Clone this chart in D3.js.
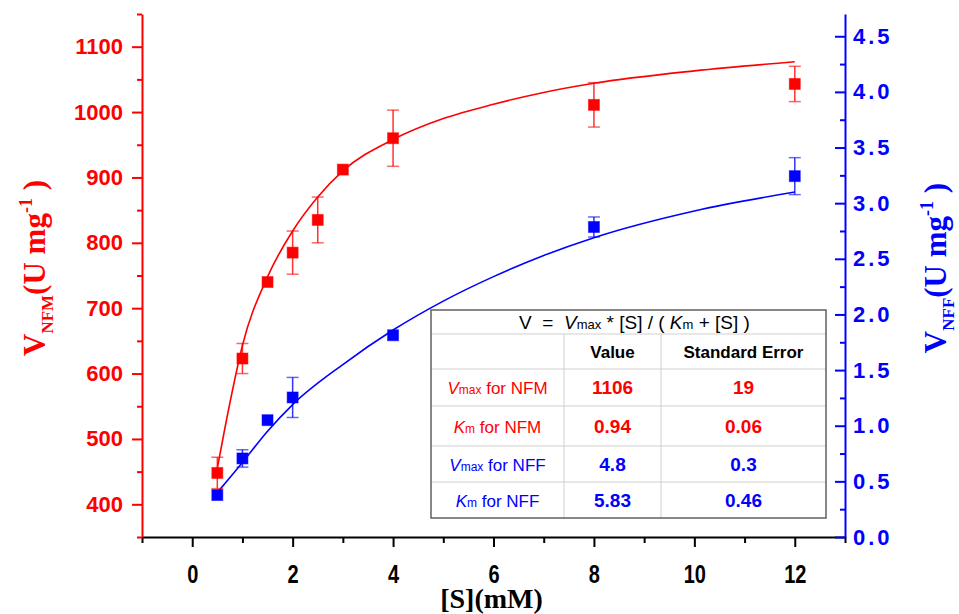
<!DOCTYPE html>
<html>
<head>
<meta charset="utf-8">
<script src="https://cdn.jsdelivr.net/npm/d3@7"></script>
<style>
  body { margin: 0; background: #fff; }
  svg { display: block; }
  .tick text { font-family: "Liberation Sans", Arial, sans-serif; font-weight: bold; }
</style>
</head>
<body>
<div id="chart"></div>
<script>
// substrate concentration [S] (mM) for the measured points
const nfmX = [0.5, 1, 1.5, 2, 2.5, 3, 4, 8, 12];
const nfmY = [448, 623, 740, 785, 835, 912, 960, 1011, 1043];
const nfmErr = [24, 23, 0, 33, 35, 0, 43, 34, 27];

const nffX = [0.5, 1, 1.5, 2, 4, 8, 12];
const nffY = [0.377, 0.706, 1.05, 1.254, 1.813, 2.786, 3.243];
const nffErr = [0, 0.078, 0, 0.18, 0, 0.09, 0.166];

// fitted curves
const nfmFitX = [0.5, 0.75, 1, 1.5, 2, 2.5, 3, 4, 5, 6, 7, 8, 10, 12];
const nfmFitY = [455, 555, 643, 748, 818, 870, 910, 958, 990, 1012, 1030, 1044, 1063, 1077];
const nffFitX = [0.5, 1, 1.5, 2, 3, 4, 5, 6, 7, 8, 10, 12];
const nffFitY = [0.40, 0.67, 0.95, 1.19, 1.55, 1.86, 2.12, 2.34, 2.53, 2.69, 2.93, 3.10];

// ticks
const xMajor = [0, 2, 4, 6, 8, 10, 12];
const xMinor = [-1, 1, 3, 5, 7, 9, 11, 13];
const yLMajor = [400, 500, 600, 700, 800, 900, 1000, 1100];
const yLMinor = [350, 450, 550, 650, 750, 850, 950, 1050, 1150];
const yRMajor = [0, 0.5, 1, 1.5, 2, 2.5, 3, 3.5, 4, 4.5];
const yRMinor = [0.25, 0.75, 1.25, 1.75, 2.25, 2.75, 3.25, 3.75, 4.25];

// fit table
const tableSymbols = ['V', 'K', 'V', 'K'];
const tableSubs = ['max', 'm', 'max', 'm'];
const tableSeries = ['NFM', 'NFM', 'NFF', 'NFF'];
const tableValues = ['1106', '0.94', '4.8', '5.83'];
const tableErrors = ['19', '0.06', '0.3', '0.46'];

const RED = '#ff0000', BLUE = '#0000ff';
const W = 959, H = 614;
const m = { left: 142, right: 845, top: 14, bottom: 537 };

const svg = d3.select('#chart').append('svg')
  .attr('width', W)
  .attr('height', H);

const x = d3.scaleLinear().domain([-1, 13]).range([m.left, m.right]);
const yL = d3.scaleLinear().domain([350, 1150]).range([m.bottom, m.top]);
const yR = d3.scaleLinear().domain([0, 4.7]).range([m.bottom, m.top]);

// x axis
const gx = svg.append('g').attr('transform', `translate(0,${m.bottom})`);
gx.call(d3.axisBottom(x).tickValues(xMinor).tickSize(6).tickSizeOuter(0).tickFormat(''));
gx.select('.domain').remove();
const gx2 = svg.append('g').attr('transform', `translate(0,${m.bottom})`);
gx2.call(d3.axisBottom(x).tickValues(xMajor).tickSize(10).tickPadding(18).tickSizeOuter(0).tickFormat(d3.format('d')));
gx2.select('.domain').attr('stroke', '#000').attr('stroke-width', 2);
gx.selectAll('line').attr('stroke', '#000').attr('stroke-width', 2);
gx2.selectAll('line').attr('stroke', '#000').attr('stroke-width', 2);
gx2.selectAll('text')
  .attr('font-size', 25)
  .attr('fill', '#000')
  .attr('transform', 'scale(0.8,1)');

// left axis
const gl = svg.append('g').attr('transform', `translate(${m.left},0)`);
gl.call(d3.axisLeft(yL).tickValues(yLMinor).tickSize(5).tickFormat(''));
gl.select('.domain').remove();
const gl2 = svg.append('g').attr('transform', `translate(${m.left},0)`);
gl2.call(d3.axisLeft(yL).tickValues(yLMajor).tickSize(10).tickPadding(9).tickSizeOuter(0).tickFormat(d3.format('d')));
gl2.select('.domain').attr('stroke', RED).attr('stroke-width', 2);
gl.selectAll('line').attr('stroke', RED).attr('stroke-width', 2);
gl2.selectAll('line').attr('stroke', RED).attr('stroke-width', 2);
gl2.selectAll('text').attr('font-size', 22).attr('fill', RED);

// right axis, ticks point inwards
const gr = svg.append('g').attr('transform', `translate(${m.right},0)`);
gr.call(d3.axisRight(yR).tickValues(yRMinor).tickSize(-5).tickFormat(''));
gr.select('.domain').remove();
const gr2 = svg.append('g').attr('transform', `translate(${m.right},0)`);
gr2.call(d3.axisRight(yR).tickValues(yRMajor).tickSize(-10).tickPadding(8).tickSizeOuter(0).tickFormat(d3.format('.1f')));
gr2.select('.domain').attr('stroke', BLUE).attr('stroke-width', 2);
gr.selectAll('line').attr('stroke', BLUE).attr('stroke-width', 2);
gr2.selectAll('line').attr('stroke', BLUE).attr('stroke-width', 2);
gr2.selectAll('text').attr('font-size', 22).attr('fill', BLUE).attr('letter-spacing', 3);

// axis titles
const serif = '"Liberation Serif", "Times New Roman", serif';
svg.append('text')
  .attr('x', (m.left + m.right) / 2 - 2)
  .attr('y', 608)
  .attr('text-anchor', 'middle')
  .attr('font-family', serif)
  .attr('font-weight', 'bold')
  .attr('font-size', 28)
  .attr('fill', '#000')
  .text('[S](mM)');

const yTitle = (cx, sub, color) => {
  const t = svg.append('text')
    .attr('transform', `translate(${cx},268) rotate(-90)`)
    .attr('text-anchor', 'middle')
    .attr('font-family', serif)
    .attr('font-weight', 'bold')
    .attr('font-size', 31)
    .attr('fill', color);
  t.append('tspan').text('V');
  t.append('tspan').attr('font-size', 17).attr('dy', 8).text(sub);
  t.append('tspan').attr('dy', -8).text('(U mg');
  t.append('tspan').attr('font-size', 18).attr('dy', -13).text('-1');
  t.append('tspan').attr('dy', 13).text(' )');
};
yTitle(45, 'NFM', RED);
yTitle(946, 'NFF', BLUE);

// fit curves
const line = d3.line().curve(d3.curveMonotoneX);
svg.append('path')
  .attr('d', line(nfmFitX.map((d, i) => [x(d), yL(nfmFitY[i])])))
  .attr('fill', 'none')
  .attr('stroke', RED)
  .attr('stroke-width', 1.6);
svg.append('path')
  .attr('d', line(nffFitX.map((d, i) => [x(d), yR(nffFitY[i])])))
  .attr('fill', 'none')
  .attr('stroke', BLUE)
  .attr('stroke-width', 1.6);

// points with error bars
const drawSeries = (xs, ys, errs, yScale, color) => {
  const g = svg.append('g');
  xs.forEach((d, i) => {
    if (errs[i] > 0) {
      const px = x(d), y1 = yScale(ys[i] + errs[i]), y2 = yScale(ys[i] - errs[i]);
      g.append('line').attr('x1', px).attr('x2', px).attr('y1', y1).attr('y2', y2)
        .attr('stroke', color).attr('stroke-width', 1.5).attr('stroke-opacity', 0.8);
      [y1, y2].forEach(yy => {
        g.append('line').attr('x1', px - 6).attr('x2', px + 6).attr('y1', yy).attr('y2', yy)
          .attr('stroke', color).attr('stroke-width', 1.5).attr('stroke-opacity', 0.6);
      });
    }
  });
  xs.forEach((d, i) => {
    g.append('rect')
      .attr('x', x(d) - 5.5)
      .attr('y', yScale(ys[i]) - 5.5)
      .attr('width', 11)
      .attr('height', 11)
      .attr('fill', color)
      .attr('stroke', color)
      .attr('stroke-opacity', 0.5)
      .attr('stroke-width', 1);
  });
};
drawSeries(nfmX, nfmY, nfmErr, yL, RED);
drawSeries(nffX, nffY, nffErr, yR, BLUE);

// table of fit parameters
const sans = '"Liberation Sans", Arial, sans-serif';
const tx = [431, 564, 661, 826];
const ty = [310, 334, 369, 406, 446, 482, 518];
const tg = svg.append('g').attr('font-family', sans);
tg.append('rect')
  .attr('x', tx[0]).attr('y', ty[0])
  .attr('width', tx[3] - tx[0]).attr('height', ty[6] - ty[0])
  .attr('fill', '#fff');
ty.slice(1, 6).forEach(yy => {
  tg.append('line').attr('x1', tx[0]).attr('x2', tx[3]).attr('y1', yy).attr('y2', yy)
    .attr('stroke', '#d0d0d0').attr('stroke-width', 1);
});
[tx[1], tx[2]].forEach(xx => {
  tg.append('line').attr('x1', xx).attr('x2', xx).attr('y1', ty[1]).attr('y2', ty[6])
    .attr('stroke', '#d0d0d0').attr('stroke-width', 1);
});
tg.append('rect')
  .attr('x', tx[0]).attr('y', ty[0])
  .attr('width', tx[3] - tx[0]).attr('height', ty[6] - ty[0])
  .attr('fill', 'none')
  .attr('stroke', '#606060')
  .attr('stroke-width', 1.5);

const title = tg.append('text')
  .attr('x', (tx[0] + tx[3]) / 2 + 6).attr('y', 329)
  .attr('text-anchor', 'middle').attr('font-size', 19).attr('fill', '#000')
  .attr('xml:space', 'preserve');
title.append('tspan').text('V  =  ');
title.append('tspan').attr('font-style', 'italic').text('V');
title.append('tspan').attr('font-size', 13).text('max');
title.append('tspan').text(' * [S] / ( ');
title.append('tspan').attr('font-style', 'italic').text('K');
title.append('tspan').attr('font-size', 13).text('m');
title.append('tspan').text(' + [S] )');

tg.append('text').attr('x', (tx[1] + tx[2]) / 2).attr('y', 358)
  .attr('text-anchor', 'middle').attr('font-size', 17).attr('font-weight', 'bold').text('Value');
tg.append('text').attr('x', (tx[2] + tx[3]) / 2).attr('y', 358)
  .attr('text-anchor', 'middle').attr('font-size', 17).attr('font-weight', 'bold').text('Standard Error');

tableSymbols.forEach((s, i) => {
  const color = tableSeries[i] === 'NFM' ? RED : BLUE;
  const cy = (ty[i + 2] + ty[i + 3]) / 2 + 6.5;
  const lab = tg.append('text').attr('x', (tx[0] + tx[1]) / 2).attr('y', cy)
    .attr('text-anchor', 'middle').attr('font-size', 17).attr('fill', color);
  lab.append('tspan').attr('font-style', 'italic').text(s);
  lab.append('tspan').attr('font-size', 12).text(tableSubs[i]);
  lab.append('tspan').text(' for ' + tableSeries[i]);
  tg.append('text').attr('x', (tx[1] + tx[2]) / 2).attr('y', cy)
    .attr('text-anchor', 'middle').attr('font-size', 19).attr('font-weight', 'bold')
    .attr('fill', color).text(tableValues[i]);
  tg.append('text').attr('x', (tx[2] + tx[3]) / 2).attr('y', cy)
    .attr('text-anchor', 'middle').attr('font-size', 19).attr('font-weight', 'bold')
    .attr('fill', color).text(tableErrors[i]);
});
</script>
</body>
</html>
